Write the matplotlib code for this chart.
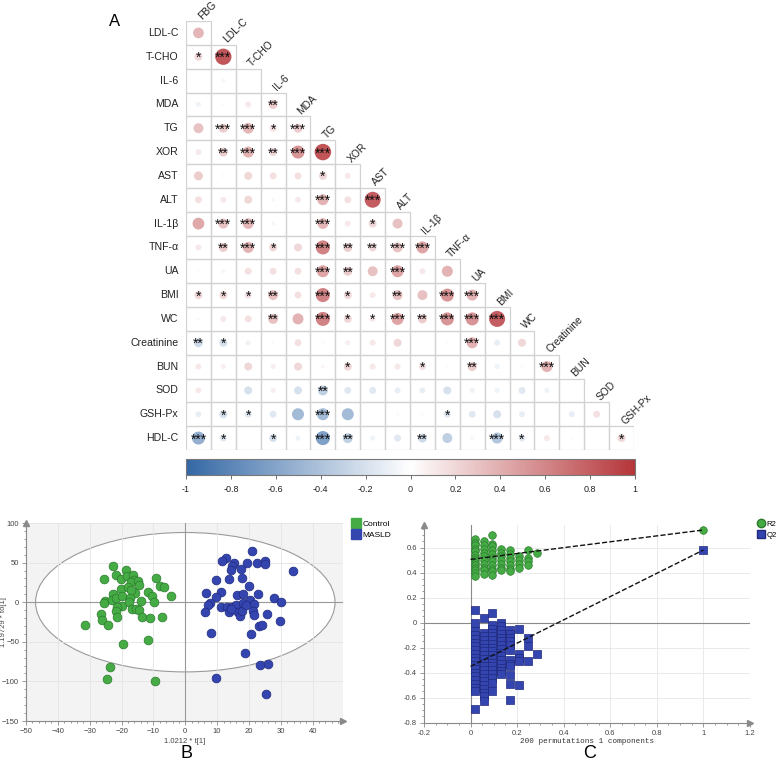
import numpy as np
import matplotlib.pyplot as plt
from matplotlib.colors import LinearSegmentedColormap, Normalize
from matplotlib.patches import Rectangle, Ellipse
from matplotlib.cm import ScalarMappable
from matplotlib.ticker import MultipleLocator
from matplotlib.lines import Line2D

plt.rcParams['font.family'] = ['Liberation Sans', 'DejaVu Sans']

# ---- panel A data: lower triangle of the correlation matrix ----
row_names = ["LDL-C", "T-CHO", "IL-6", "MDA", "TG", "XOR", "AST", "ALT", "IL-1β",
             "TNF-α", "UA", "BMI", "WC", "Creatinine", "BUN", "SOD", "GSH-Px", "HDL-C"]
col_names = ["FBG", "LDL-C", "T-CHO", "IL-6", "MDA", "TG", "XOR", "AST", "ALT",
             "IL-1β", "TNF-α", "UA", "BMI", "WC", "Creatinine", "BUN", "SOD", "GSH-Px"]

corr_rows = [
    [0.36],
    [0.20, 0.83],
    [0.01, 0.05, 0.01],
    [-0.08, 0.03, 0.11, 0.25],
    [0.31, 0.25, 0.36, 0.15, 0.25],
    [0.11, 0.25, 0.38, 0.20, 0.53, 0.85],
    [0.25, 0.03, 0.20, 0.15, 0.15, 0.20, 0.11],
    [0.15, 0.11, 0.20, 0.05, 0.11, 0.38, 0.15, 0.80],
    [0.43, 0.31, 0.36, 0.05, 0.01, 0.36, 0.11, 0.20, 0.31],
    [0.11, 0.25, 0.38, 0.20, 0.20, 0.62, 0.25, 0.20, 0.31, 0.45],
    [-0.03, 0.05, 0.15, 0.15, 0.15, 0.45, 0.25, 0.31, 0.45, 0.11, 0.38],
    [0.20, 0.20, 0.15, 0.31, 0.15, 0.62, 0.20, 0.11, 0.31, 0.31, 0.53, 0.38],
    [0.03, 0.11, 0.15, 0.31, 0.38, 0.62, 0.20, 0.11, 0.45, 0.25, 0.53, 0.53, 0.80],
    [-0.25, -0.20, -0.08, 0.03, 0.15, 0.03, 0.08, 0.11, 0.20, 0.01, -0.03, 0.38, -0.11, 0.20],
    [0.11, 0.08, 0.20, 0.08, 0.20, 0.05, 0.20, 0.11, 0.11, 0.15, -0.03, 0.25, -0.08, 0.03, 0.38],
    [0.11, 0.00, -0.20, 0.08, -0.20, -0.31, -0.15, -0.15, -0.11, -0.11, -0.20, -0.08, -0.08, -0.15, -0.08, 0.00],
    [-0.11, -0.20, -0.15, -0.15, -0.45, -0.45, -0.45, -0.01, -0.03, -0.03, -0.15, -0.15, -0.20, -0.11, -0.01, -0.11, 0.15],
    [-0.53, -0.15, -0.01, -0.20, -0.08, -0.62, -0.31, -0.08, -0.15, -0.25, -0.31, -0.05, -0.38, -0.15, 0.11, -0.03, 0.00, 0.20],
]

star_rows = [
    [""],
    ["*", "***"],
    ["", "", ""],
    ["", "", "", "**"],
    ["", "***", "***", "*", "***"],
    ["", "**", "***", "**", "***", "***"],
    ["", "", "", "", "", "*", ""],
    ["", "", "", "", "", "***", "", "***"],
    ["", "***", "***", "", "", "***", "", "*", ""],
    ["", "**", "***", "*", "", "***", "**", "**", "***", "***"],
    ["", "", "", "", "", "***", "**", "", "***", "", ""],
    ["*", "*", "*", "**", "", "***", "*", "", "**", "", "***", "***"],
    ["", "", "", "**", "", "***", "*", "*", "***", "**", "***", "***", "***"],
    ["**", "*", "", "", "", "", "", "", "", "", "", "***", "", ""],
    ["", "", "", "", "", "", "*", "", "", "*", "", "**", "", "", "***"],
    ["", "", "", "", "", "**", "", "", "", "", "", "", "", "", "", ""],
    ["", "*", "*", "", "", "***", "", "", "", "", "*", "", "", "", "", "", ""],
    ["***", "*", "", "*", "", "***", "**", "", "", "**", "", "", "***", "*", "", "", "", "*"],
]

cbar_ticks = [-1, -0.8, -0.6, -0.4, -0.2, 0, 0.2, 0.4, 0.6, 0.8, 1]

# ---- panel B data: OPLS-DA scores ----
control_t = [-22.7, -25.5, -21.7, -18.5, -20.2, -18.3, -16.4, -16.1, -17.0, -14.8, -14.5, -9.1,
             -7.8, -6.7, -22.8, -20.2, -18.1, -15.7, -11.6, -10.6, -4.6, -25.3, -25.4, -22.9,
             -21.6, -19.8, -17.4, -9.7, -19.8, -21.4, -21.6, -17.7, -16.6, -15.4, -14.4, -21.4,
             -26.4, -26.2, -24.4, -31.5, -13.5, -11.2, -7.2, -19.5, -11.6, -23.6, -24.5, -9.5,
             -16.9, -14.0]
control_to = [46.2, 29.8, 34.9, 40.3, 29.0, 33.2, 34.9, 28.6, 25.6, 26.9, 21.4, 31.1,
              21.0, 18.9, 10.9, 17.2, 19.3, 11.8, 12.6, 7.6, 7.6, 1.3, -0.8, 3.4,
              5.0, 8.0, 5.0, 0.8, -5.0, -5.9, -10.5, 0.4, -8.0, -9.2, -10.1, -18.5,
              -15.1, -22.7, -28.2, -29.0, -18.5, -19.7, -19.3, -53.4, -47.1, -81.5, -97.1, -99.2,
              16.0, 2.0]
masld_t = [20.8, 12.7, 11.6, 15.3, 14.6, 14.3, 17.6, 19.3, 22.4, 25.1, 25.0, 33.8, 9.7, 13.7,
           17.7, 19.9, 6.5, 11.1, 9.7, 16.3, 18.0, 22.7, 7.8, 7.0, 6.1, 11.1, 13.2, 14.8, 15.9,
           13.6, 16.6, 17.2, 17.7, 18.0, 20.4, 21.7, 21.1, 21.7, 25.5, 27.9, 30.0, 29.8, 23.2,
           24.1, 8.0, 20.6, 18.6, 23.4, 26.1, 9.5, 25.3, 19.0, 14.3]
masld_to = [64.3, 56.3, 52.1, 49.6, 45.4, 40.3, 42.4, 49.6, 49.6, 52.1, 47.9, 39.1, 28.6, 29.8,
            30.7, 20.2, 12.2, 13.0, 6.7, 8.8, 10.1, 10.1, -0.8, -3.8, -12.2, -5.9, -5.9, -5.9, -3.8,
            -13.0, -12.2, -17.6, -10.9, -0.4, 2.5, -1.7, -10.9, -16.4, -15.5, 5.0, 0.8, -23.5, -30.3,
            -28.2, -39.5, -39.9, -64.7, -79.8, -78.6, -95.8, -116.0, -3.8, -8.0]
ellipse_t = 94
ellipse_to = 176

# ---- panel C data: permutation test ----
r2_x = ([0.017] * 14 + [0.056] * 10 + [0.093] * 11 + [0.132] * 7 + [0.170] * 7
        + [0.208] * 4 + [0.247] * 4 + [0.286] + [1.0])
r2_y = [0.67, 0.64, 0.62, 0.59, 0.57, 0.54, 0.52, 0.50, 0.48, 0.46, 0.44, 0.42, 0.40, 0.37,
        0.65, 0.62, 0.59, 0.56, 0.53, 0.50, 0.47, 0.44, 0.42, 0.39,
        0.70, 0.63, 0.61, 0.58, 0.55, 0.52, 0.49, 0.46, 0.43, 0.41, 0.38,
        0.59, 0.56, 0.53, 0.50, 0.47, 0.44, 0.42,
        0.58, 0.55, 0.52, 0.49, 0.46, 0.43, 0.41,
        0.53, 0.50, 0.47, 0.44,
        0.58, 0.52, 0.49, 0.46,
        0.56,
        0.74]
q2_x = ([0.017] * 20 + [0.056] * 20 + [0.093] * 18 + [0.132] * 15 + [0.170] * 12
        + [0.208] * 5 + [0.247] * 3 + [0.286] + [1.0])
q2_y = [0.10, -0.005, -0.07, -0.10, -0.13, -0.16, -0.19, -0.22, -0.25, -0.28, -0.31, -0.34,
        -0.37, -0.40, -0.43, -0.46, -0.49, -0.52, -0.55, -0.69,
        0.04, -0.08, -0.11, -0.14, -0.17, -0.20, -0.23, -0.26, -0.29, -0.32, -0.35, -0.38,
        -0.41, -0.44, -0.47, -0.50, -0.53, -0.56, -0.59, -0.63,
        0.08, -0.02, -0.05, -0.08, -0.11, -0.14, -0.17, -0.20, -0.23, -0.26, -0.29, -0.32,
        -0.35, -0.38, -0.41, -0.44, -0.48, -0.55,
        0.00, -0.03, -0.06, -0.09, -0.12, -0.15, -0.18, -0.21, -0.24, -0.27, -0.30, -0.33,
        -0.36, -0.39, -0.41,
        -0.06, -0.09, -0.12, -0.15, -0.18, -0.22, -0.30, -0.33, -0.35, -0.42, -0.49, -0.62,
        -0.05, -0.25, -0.28, -0.31, -0.50,
        -0.12, -0.19, -0.31,
        -0.25,
        0.58]
r2_line = [0.505, 0.74]
q2_line = [-0.35, 0.58]

W, H = 776, 762
fig = plt.figure(figsize=(W / 100, H / 100), dpi=100)


def box(l, t, r, b):
    return [l / W, 1 - b / H, (r - l) / W, (b - t) / H]


# ================= panel A =================
cmap = LinearSegmentedColormap.from_list("rb", ["#3468a5", "#ffffff", "#b5363a"])
norm = Normalize(-1, 1)
axA = fig.add_axes(box(186, 21, 634, 450))
cell_px = 429 / 18
dmax = 0.75 * cell_px * 0.72  # circle diameter in points at |r| = 1

xs, ys, vs = [], [], []
for i, (vals, stars) in enumerate(zip(corr_rows, star_rows)):
    for j, (v, s) in enumerate(zip(vals, stars)):
        axA.add_patch(Rectangle((j - 0.5, i - 0.5), 1, 1, fill=False,
                                ec='#d2d2d2', lw=0.9, zorder=1))
        xs.append(j)
        ys.append(i)
        vs.append(v)
        if s:
            axA.text(j, i + 0.22, s, ha='center', va='baseline', fontsize=10,
                     color='#111111', zorder=3)
vs = np.array(vs)
axA.scatter(xs, ys, s=(dmax * np.sqrt(np.abs(vs))) ** 2, c=vs, cmap=cmap, norm=norm,
            linewidths=0, zorder=2)

for i, name in enumerate(row_names):
    axA.text(-0.8, i, name, ha='right', va='center', fontsize=7.6, color='#222222')
for j, name in enumerate(col_names):
    axA.text(j + 0.2, j - 0.5, name, ha='left', va='bottom', rotation=45,
             rotation_mode='anchor', fontsize=7.4, color='#222222')
axA.set_xlim(-0.5, 17.5)
axA.set_ylim(17.5, -0.5)
axA.axis('off')
fig.text(115 / W, 1 - 22 / H, "A", fontsize=12, ha='center', va='center')

cax = fig.add_axes(box(186, 459, 635, 475))
cb = fig.colorbar(ScalarMappable(norm=norm, cmap=cmap), cax=cax,
                  orientation='horizontal', ticks=cbar_ticks)
cb.ax.set_xticklabels([f"{t:g}" for t in cbar_ticks])
cb.outline.set_edgecolor('#777777')
cb.ax.tick_params(labelsize=6.5, length=3, width=0.6, color='#555555',
                  labelcolor='#222222', pad=4)


def arrow_axes(ax):
    for sp in ['top', 'right']:
        ax.spines[sp].set_visible(False)
    for sp in ['left', 'bottom']:
        ax.spines[sp].set_color('#8a8a8a')
        ax.spines[sp].set_linewidth(0.8)
    ax.plot(0, 1, marker='^', ms=4, color='#8a8a8a', transform=ax.transAxes, clip_on=False)
    ax.plot(1, 0, marker='>', ms=4, color='#8a8a8a', transform=ax.transAxes, clip_on=False)
    ax.tick_params(which='both', labelsize=5.5, color='#8a8a8a', labelcolor='#444444',
                   width=0.6, pad=2)
    ax.tick_params(which='major', length=3)
    ax.tick_params(which='minor', length=1.5)


# ================= panel B =================
axB = fig.add_axes(box(26, 523, 343, 721))
axB.set_facecolor('#f3f3f3')
axB.set_xlim(-50, 49.5)
axB.set_ylim(-150, 100)
axB.xaxis.set_major_locator(MultipleLocator(10))
axB.xaxis.set_minor_locator(MultipleLocator(2))
axB.yaxis.set_major_locator(MultipleLocator(50))
axB.yaxis.set_minor_locator(MultipleLocator(10))
axB.set_axisbelow(True)
axB.grid(color='#e4e4e4', lw=0.6)
axB.add_patch(Ellipse((0, 0), ellipse_t, ellipse_to, fc='white', ec='#9a9a9a',
                      lw=0.8, zorder=0.4))
axB.axhline(0, color='#999999', lw=0.8, zorder=1)
axB.axvline(0, color='#999999', lw=0.8, zorder=1)
axB.scatter(control_t, control_to, s=40, c='#45ac45', edgecolors='#2c7a2c',
            linewidths=0.5, zorder=3)
axB.scatter(masld_t, masld_to, s=40, c='#3545b0', edgecolors='#1f2a7f',
            linewidths=0.5, zorder=3)
arrow_axes(axB)
axB.set_xlabel("1.0212 * t[1]", fontsize=5.5, labelpad=2, color='#444444')
axB.set_ylabel("1.19729 * to[1]", fontsize=5.5, color='#444444')
axB.yaxis.set_label_coords(-0.06, 0.5)
legB = [Line2D([], [], ls='', marker='s', ms=7, mfc='#45ac45', mec='#45ac45'),
        Line2D([], [], ls='', marker='s', ms=7, mfc='#3545b0', mec='#3545b0')]
fig.legend(legB, ["Control", "MASLD"], loc='upper left', bbox_to_anchor=(348 / W, 1 - 516 / H),
           frameon=False, fontsize=6, handlelength=0.8, handletextpad=0.4,
           labelspacing=0.35, borderpad=0)
fig.text(187 / W, 1 - 754 / H, "B", fontsize=13, ha='center', va='center')

# ================= panel C =================
axC = fig.add_axes(box(424, 525, 750, 722.7))
axC.set_xlim(-0.2, 1.2)
axC.set_ylim(-0.8, 0.78)
axC.xaxis.set_major_locator(MultipleLocator(0.2))
axC.xaxis.set_minor_locator(MultipleLocator(0.05))
axC.yaxis.set_major_locator(MultipleLocator(0.2))
axC.yaxis.set_minor_locator(MultipleLocator(0.05))
axC.xaxis.set_major_formatter(lambda v, p: f"{v:g}")
axC.yaxis.set_major_formatter(lambda v, p: f"{v:g}")
axC.set_axisbelow(True)
axC.grid(color='#e6e6e6', lw=0.6)
axC.axhline(0, color='#8a8a8a', lw=0.8, zorder=1)
axC.axvline(0, color='#8a8a8a', lw=0.8, zorder=1)
axC.scatter(r2_x, r2_y, s=30, c='#45ac45', edgecolors='#2c7a2c', linewidths=0.5, zorder=3)
axC.scatter(q2_x, q2_y, s=26, marker='s', c='#3545b0', edgecolors='#1f2a7f',
            linewidths=0.5, zorder=3)
axC.plot([0, 1], r2_line, ls='--', color='#111111', lw=1, zorder=4)
axC.plot([0, 1], q2_line, ls='--', color='#111111', lw=1, zorder=4)
arrow_axes(axC)
axC.set_xlabel("200 permutations 1 components", fontsize=5.5, labelpad=1,
               family='Liberation Mono', color='#333333')
legC = [Line2D([], [], ls='', marker='o', ms=6, mfc='#45ac45', mec='#2c7a2c'),
        Line2D([], [], ls='', marker='s', ms=6, mfc='#3545b0', mec='#1f2a7f')]
fig.legend(legC, ["R2", "Q2"], loc='upper left', bbox_to_anchor=(755 / W, 1 - 517 / H),
           frameon=False, fontsize=5.5, handlelength=0.7, handletextpad=0.3,
           labelspacing=0.45, borderpad=0)
fig.text(590 / W, 1 - 754 / H, "C", fontsize=13, ha='center', va='center')

fig.savefig("out.png", dpi=100)
